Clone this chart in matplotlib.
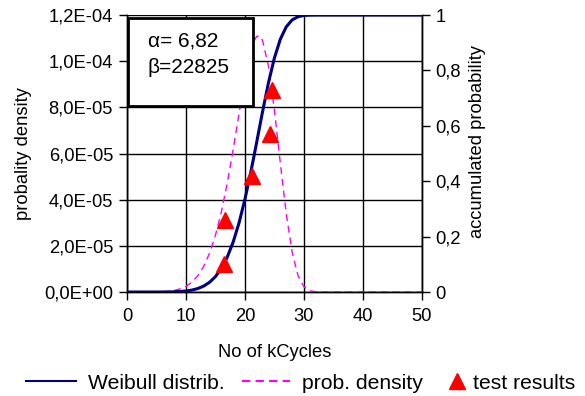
import matplotlib
matplotlib.use("Agg")
import matplotlib.pyplot as plt
from matplotlib.lines import Line2D
from matplotlib.patches import Rectangle
from matplotlib.ticker import FixedLocator, FuncFormatter

plt.rcParams['font.family'] = ['Liberation Sans', 'DejaVu Sans']

# values (kCycles)
kcycles = [0, 2, 4, 5, 6, 7, 8, 9, 10, 11, 12, 13, 14, 15, 16, 17, 18, 19, 20,
           21, 21.5, 22, 22.5, 23, 24, 25, 26, 27, 28, 29, 30, 31, 32, 34, 40, 50]
# Weibull cumulative probability (right axis)
cum_prob = [0, 0, 0, 0.00003, 0.0001, 0.0003, 0.0008, 0.0018, 0.0036, 0.0069,
            0.0124, 0.0213, 0.035, 0.0555, 0.0849, 0.1255, 0.1797, 0.249, 0.334,
            0.4325, 0.486, 0.5407, 0.5963, 0.6514, 0.7557, 0.8445, 0.9121,
            0.9569, 0.9822, 0.994, 0.9984, 0.9997, 1.0, 1.0, 1.0, 1.0]
# probability density (left axis)
prob_dens = [0, 0, 0, 4.3e-8, 1.25e-7, 3.1e-7, 6.7e-7, 1.33e-6, 2.44e-6,
             4.24e-6, 7.0e-6, 1.105e-5, 1.677e-5, 2.453e-5, 3.46e-5, 4.70e-5,
             6.157e-5, 7.72e-5, 9.23e-5, 1.0444e-4, 1.085e-4, 1.1077e-4,
             1.110e-4, 1.0895e-4, 9.787e-5, 7.90e-5, 5.61e-5, 3.42e-5,
             1.743e-5, 7.19e-6, 2.31e-6, 5.5e-7, 1.0e-7, 0, 0, 0]
# test results
test_kcycles = [16.4, 16.7, 21.2, 24.2, 24.6]
test_prob = [0.10, 0.26, 0.42, 0.57, 0.73]

alpha_txt = "6,82"
beta_txt = "22825"

NAVY = '#000080'
MAGENTA = '#ff00ff'
RED = '#ff0000'

fig = plt.figure(figsize=(5.85, 3.96), dpi=100)
ax = fig.add_axes([0.217, 0.2626, 0.504, 0.6994])
ax2 = ax.twinx()

ax.plot(kcycles, prob_dens, color=MAGENTA, lw=1, ls=(0, (5, 3.5)), zorder=3)
ax2.plot(kcycles, cum_prob, color=NAVY, lw=2.2, zorder=3)
ax2.plot(test_kcycles, test_prob, ls='None', marker='^', ms=12,
         color=RED, zorder=4)

ax.set_xlim(0, 50)
ax.set_ylim(0, 1.2e-4)
ax2.set_ylim(0, 1)
ax.xaxis.set_major_locator(FixedLocator([0, 10, 20, 30, 40, 50]))
ax.yaxis.set_major_locator(FixedLocator([i * 2e-5 for i in range(7)]))
ax2.yaxis.set_major_locator(FixedLocator([0, 0.2, 0.4, 0.6, 0.8, 1.0]))


def sci_comma(v, pos):
    mant, exp = ("%.1E" % v).split("E")
    e = int(exp)
    return "%sE%s%02d" % (mant.replace(".", ","), "-" if e < 0 else "+", abs(e))


ax.yaxis.set_major_formatter(FuncFormatter(sci_comma))
ax2.yaxis.set_major_formatter(FuncFormatter(
    lambda v, p: ("%g" % round(v, 1)).replace(".", ",")))

ax.grid(True, color='black', lw=1)
ax.set_axisbelow(True)
for a in (ax, ax2):
    for s in a.spines.values():
        s.set_color('black')
        s.set_linewidth(1)
    a.tick_params(labelsize=13.2, direction='out', length=5.5, width=1, pad=4.5)
    a.spines['top'].set_visible(False)
ax.tick_params(axis='x', pad=6)

ax.set_xlabel("No of kCycles", fontsize=13.2)
ax.xaxis.set_label_coords(0.5, -0.217)
ax.xaxis.label.set_va('center')
ax.set_ylabel("probality density", fontsize=13.2)
ax.yaxis.set_label_coords(-0.3525, 0.5)
ax.yaxis.label.set_va('center')
ax2.set_ylabel("accumulated probability", fontsize=13.2)
ax2.yaxis.set_label_coords(1.19, 0.545)
ax2.yaxis.label.set_va('center')

# parameter box
ax2.add_patch(Rectangle((0.003, 0.671), 0.424, 0.318, transform=ax.transAxes,
                        fc='white', ec='black', lw=2, zorder=5))
ax2.text(0.071, 0.906, "\u03b1= " + alpha_txt, transform=ax.transAxes,
         fontsize=15, va='center', ha='left', zorder=6)
ax2.text(0.071, 0.809, "\u03b2=" + beta_txt, transform=ax.transAxes,
         fontsize=15, va='center', ha='left', zorder=6)

# legend row below the axes
items = [
    (Line2D([], [], color=NAVY, lw=1.5), "Weibull distrib.", 0.0444, 2.37, 0.55),
    (Line2D([], [], color=MAGENTA, lw=1.5, ls=(0, (4, 2.5))), "prob. density",
     0.4137, 2.28, 0.55),
    (Line2D([], [], ls='None', marker='^', ms=11, color=RED), "test results",
     0.766, 0.8, 0.37),
]
for h, lab, x0, hl, tp in items:
    fig.legend([h], [lab], loc='center left', bbox_to_anchor=(x0, 0.0328),
               frameon=False, fontsize=15.2, handlelength=hl, handletextpad=tp,
               borderpad=0, borderaxespad=0)

fig.savefig("out.png", dpi=100)
